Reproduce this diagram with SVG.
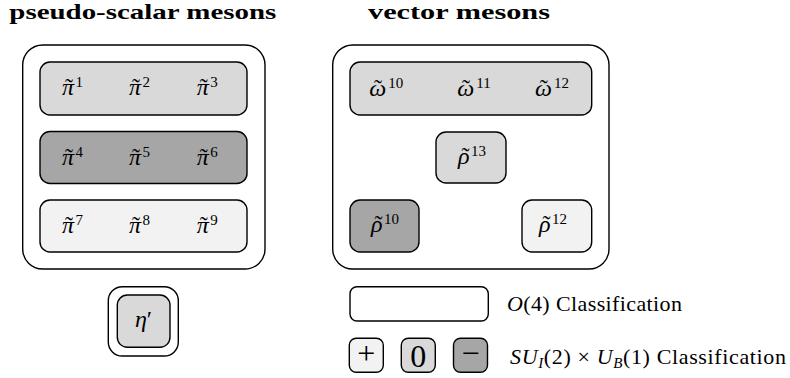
<svg xmlns="http://www.w3.org/2000/svg" width="790" height="378" viewBox="0 0 790 378">
<style>
  .box { stroke: #000; stroke-width: 1.4; }
  .w { fill: #ffffff; }
  .l { fill: #d9d9d9; }
  .d { fill: #a6a6a6; }
  .v { fill: #f2f2f2; }
  text { font-family: "Liberation Serif", "Times New Roman", serif; fill: #000; }
  .title { font-size: 21px; font-weight: bold; }
  .m { font-size: 24px; }
  .t { font-size: 22px; }
  .i { font-style: italic; }
  .sup { font-size: 15px; font-style: normal; }
  .sub { font-size: 15px; font-style: italic; }
  .tl { text-anchor: middle; font-style: normal; }
  .sym { font-size: 32px; text-anchor: middle; }
  .c { text-anchor: middle; }
</style>
<rect width="790" height="378" fill="#ffffff"/>

<g id="titles">
  <text class="title" x="9.3" y="18.5" textLength="267" lengthAdjust="spacingAndGlyphs">pseudo-scalar mesons</text>
  <text class="title" x="368" y="18.5" textLength="182" lengthAdjust="spacingAndGlyphs">vector mesons</text>
</g>

<g id="connectors"></g>

<g id="pseudo-scalar-group">
  <rect class="box w" x="22.7" y="45" width="242.3" height="224" rx="20"/>
</g>

<g id="pi-row-1">
  <rect class="box l" x="40" y="62" width="207" height="53" rx="10"/>
  <text class="m" x="62" y="95"><tspan class="i">π</tspan><tspan class="sup" dx="1.5" dy="-8">1</tspan><tspan class="tl" x="69" y="95">˜</tspan></text>
  <text class="m" x="129" y="95"><tspan class="i">π</tspan><tspan class="sup" dx="1.5" dy="-8">2</tspan><tspan class="tl" x="136" y="95">˜</tspan></text>
  <text class="m" x="196.7" y="95"><tspan class="i">π</tspan><tspan class="sup" dx="1.5" dy="-8">3</tspan><tspan class="tl" x="203.7" y="95">˜</tspan></text>
</g>

<g id="pi-row-2">
  <rect class="box d" x="40" y="131.5" width="207" height="52" rx="10"/>
  <text class="m" x="62" y="164.5"><tspan class="i">π</tspan><tspan class="sup" dx="1.5" dy="-8">4</tspan><tspan class="tl" x="69" y="164.5">˜</tspan></text>
  <text class="m" x="129" y="164.5"><tspan class="i">π</tspan><tspan class="sup" dx="1.5" dy="-8">5</tspan><tspan class="tl" x="136" y="164.5">˜</tspan></text>
  <text class="m" x="196.7" y="164.5"><tspan class="i">π</tspan><tspan class="sup" dx="1.5" dy="-8">6</tspan><tspan class="tl" x="203.7" y="164.5">˜</tspan></text>
</g>

<g id="pi-row-3">
  <rect class="box v" x="40" y="200" width="207" height="52" rx="10"/>
  <text class="m" x="62" y="233"><tspan class="i">π</tspan><tspan class="sup" dx="1.5" dy="-8">7</tspan><tspan class="tl" x="69" y="233">˜</tspan></text>
  <text class="m" x="129" y="233"><tspan class="i">π</tspan><tspan class="sup" dx="1.5" dy="-8">8</tspan><tspan class="tl" x="136" y="233">˜</tspan></text>
  <text class="m" x="196.7" y="233"><tspan class="i">π</tspan><tspan class="sup" dx="1.5" dy="-8">9</tspan><tspan class="tl" x="203.7" y="233">˜</tspan></text>
</g>

<g id="vector-group">
  <rect class="box w" x="332.7" y="45" width="276.3" height="224" rx="20"/>
</g>

<g id="omega-row">
  <rect class="box l" x="350" y="62" width="241.7" height="53" rx="10"/>
  <text class="m" x="369.3" y="96"><tspan class="i">ω</tspan><tspan class="sup" dx="2" dy="-8">10</tspan><tspan class="tl" x="378" y="96">˜</tspan></text>
  <text class="m" x="457.3" y="96"><tspan class="i">ω</tspan><tspan class="sup" dx="2" dy="-8">11</tspan><tspan class="tl" x="466" y="96">˜</tspan></text>
  <text class="m" x="535" y="96"><tspan class="i">ω</tspan><tspan class="sup" dx="2" dy="-8">12</tspan><tspan class="tl" x="543.7" y="96">˜</tspan></text>
</g>

<g id="rho-13">
  <rect class="box l" x="436" y="132" width="70" height="51" rx="10"/>
  <text class="m" x="458" y="164"><tspan class="i">ρ</tspan><tspan class="sup" dx="1.5" dy="-8">13</tspan><tspan class="tl" x="465.5" y="164">˜</tspan></text>
</g>

<g id="rho-10">
  <rect class="box d" x="350" y="200" width="69" height="52" rx="10"/>
  <text class="m" x="371" y="232"><tspan class="i">ρ</tspan><tspan class="sup" dx="1.5" dy="-8">10</tspan><tspan class="tl" x="378.5" y="232">˜</tspan></text>
</g>

<g id="rho-12">
  <rect class="box v" x="522" y="200" width="69.7" height="52" rx="10"/>
  <text class="m" x="539" y="232"><tspan class="i">ρ</tspan><tspan class="sup" dx="1.5" dy="-8">12</tspan><tspan class="tl" x="546.5" y="232">˜</tspan></text>
</g>

<g id="eta-prime">
  <rect class="box w" x="108.3" y="286.7" width="70" height="69.3" rx="14"/>
  <rect class="box l" x="117.3" y="295" width="52.7" height="52.3" rx="10"/>
  <text class="m c" x="143.5" y="327"><tspan class="i">η</tspan><tspan>′</tspan></text>
</g>

<g id="legend-o4">
  <rect class="box w" x="350" y="286.7" width="138.3" height="34.3" rx="7"/>
  <text class="t" x="507" y="311" textLength="175"><tspan class="i">O</tspan>(4) Classification</text>
</g>

<g id="legend-plus">
  <rect class="box v" x="349.3" y="338.3" width="34" height="34" rx="7"/>
  <text class="sym" x="366.3" y="364">+</text>
</g>
<g id="legend-zero">
  <rect class="box l" x="401.3" y="338.3" width="34" height="34" rx="7"/>
  <text class="sym" x="418.3" y="366.5">0</text>
</g>
<g id="legend-minus">
  <rect class="box d" x="453.5" y="338.3" width="34" height="34" rx="7"/>
  <text class="sym" x="470.5" y="364">−</text>
</g>
<g id="legend-su">
  <text class="t" x="510" y="364" textLength="276"><tspan class="i">SU</tspan><tspan class="sub" dy="4">I</tspan><tspan dy="-4">(2) × </tspan><tspan class="i">U</tspan><tspan class="sub" dy="4">B</tspan><tspan dy="-4">(1) Classification</tspan></text>
</g>
</svg>
